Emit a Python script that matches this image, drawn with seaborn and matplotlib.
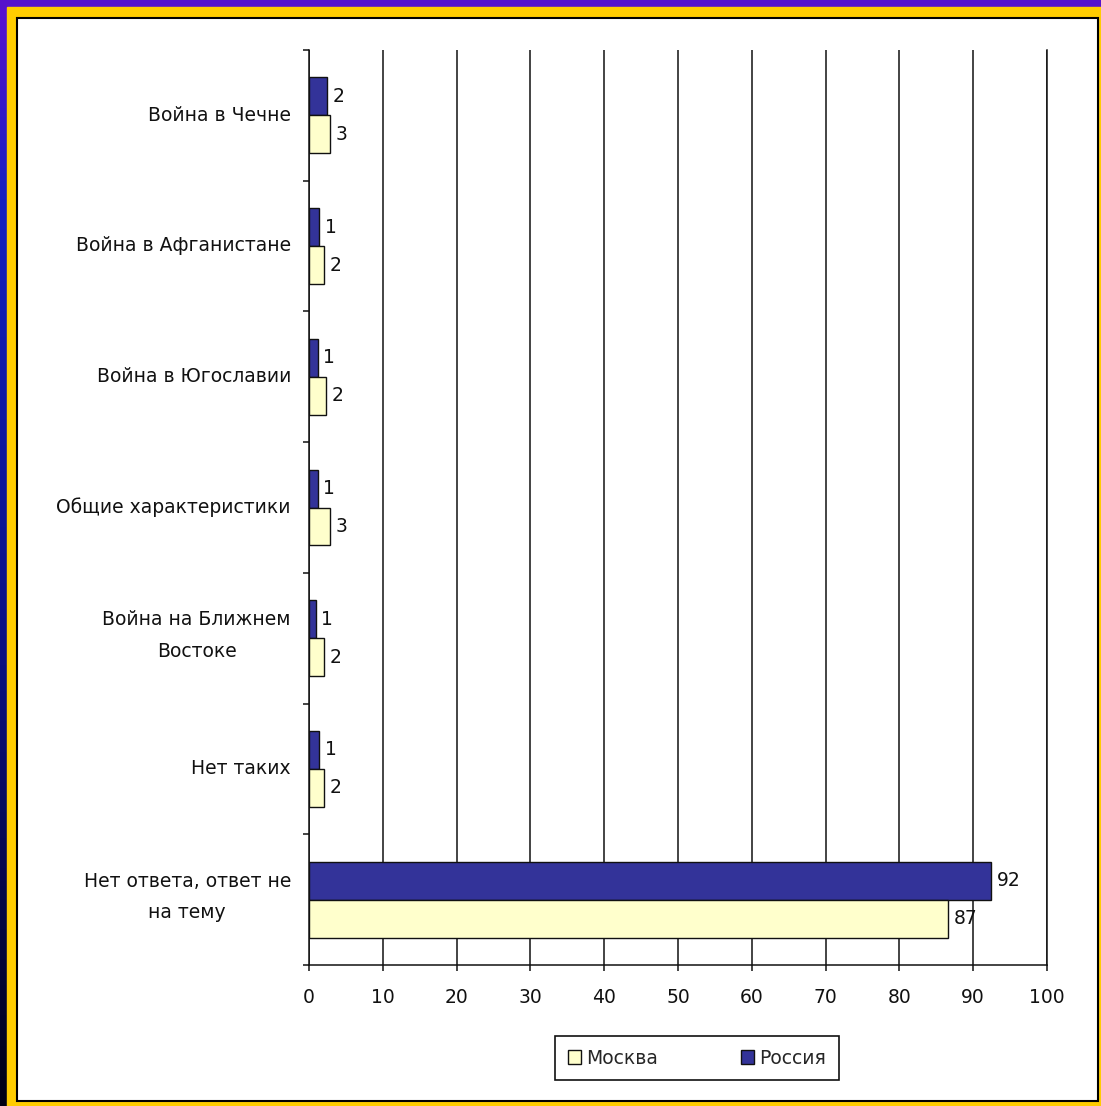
import numpy as np
import pandas as pd
import matplotlib
matplotlib.use("Agg")
import matplotlib.pyplot as plt
import matplotlib.transforms as mtransforms
import seaborn as sns
from matplotlib.patches import Rectangle, Patch
from matplotlib.colors import LinearSegmentedColormap

# data
categories = ['Война в Чечне', 'Война в Афганистане', 'Война в Югославии',
              'Общие характеристики', 'Война на Ближнем\nВостоке', 'Нет таких',
              'Нет ответа, ответ не\nна тему']
russia = [2.4, 1.4, 1.2, 1.2, 0.9, 1.4, 92.4]
moscow = [2.9, 2.1, 2.3, 2.9, 2.1, 2.1, 86.6]
series = ['Россия', 'Москва']
x_ticks = [0, 10, 20, 30, 40, 50, 60, 70, 80, 90, 100]

colors = {'Россия': '#333399', 'Москва': '#FFFFCC'}

df = pd.DataFrame({
    'Категория': categories * 2,
    'Регион': ['Россия'] * len(categories) + ['Москва'] * len(categories),
    'Процент': russia + moscow,
})

sns.set_style("white")
plt.rcParams['font.family'] = ['DejaVu Sans']
FS = 13.5
W, H = 1101, 1106
fig = plt.figure(figsize=(W / 100, H / 100), dpi=100)

# ---- decorative frame ----
bg = fig.add_axes([0, 0, 1, 1], zorder=-5)
bg.set_xlim(0, W)
bg.set_ylim(H, 0)
bg.axis('off')
cmap = LinearSegmentedColormap.from_list(
    'edge', [(0, '#5a10d0'), (0.18, '#1420c0'), (0.6, '#0a0f80'), (1, '#000014')])
bg.imshow(np.linspace(0, 1, 256).reshape(-1, 1), cmap=cmap, aspect='auto',
          extent=[0, 7, H, 0], zorder=1)
bg.add_patch(Rectangle((0, 0), W, 7, color='#5512cc', zorder=1))
bg.add_patch(Rectangle((7, 7), W - 7, H - 7, color='#ffcc00', zorder=2))
bg.add_patch(Rectangle((17, 18), 1098 - 17, 1101 - 18, facecolor='white',
                       edgecolor='black', lw=1.5, zorder=3))

# ---- chart ----
ax = fig.add_axes([309 / W, (H - 965) / H, (1047 - 309) / W, (965 - 50) / H])
ax.set_facecolor('white')
sns.barplot(data=df, y='Категория', x='Процент', hue='Регион', hue_order=series,
            palette=colors, saturation=1, orient='h', width=0.58, edgecolor='#111111',
            linewidth=1.0, ax=ax, legend=False, zorder=3)

for cont in ax.containers:
    ax.bar_label(cont, fmt='{:.0f}', padding=4, fontsize=FS, color='#111111')

ax.set_xlim(0, 100)
ax.set_ylim(len(categories) - 0.5, -0.5)
ax.set_xticks(x_ticks)
ax.set_xticklabels([str(t) for t in x_ticks], fontsize=FS, color='#111111')
ax.xaxis.grid(True, color='#111111', lw=1.1, zorder=0)
ax.yaxis.grid(False)
ax.set_axisbelow(True)

ax.set_yticks(range(len(categories)))
ax.set_yticklabels(categories, fontsize=FS, color='#111111')
ax.set_yticks(np.arange(-0.5, len(categories), 1.0), minor=True)
ax.tick_params(axis='y', which='major', length=0, pad=13)
ax.tick_params(axis='y', which='minor', length=4.5, width=1.1, color='#111111', direction='out', left=True)
ax.tick_params(axis='x', length=4.5, width=1.1, color='#111111', direction='out', pad=12, bottom=True)

# two-line labels: centred lines, wider spacing, nudged up a bit
for lab in ax.get_yticklabels():
    lab.set_multialignment('center')
    lab.set_linespacing(1.85)
    if '\n' in lab.get_text():
        lab.set_transform(lab.get_transform() +
                          mtransforms.ScaledTranslation(0, 8 / 72, fig.dpi_scale_trans))
    else:
        lab.set_transform(lab.get_transform() +
                          mtransforms.ScaledTranslation(0, 1.5 / 72, fig.dpi_scale_trans))

ax.set_xlabel('')
ax.set_ylabel('')
for side in ['left', 'bottom', 'right']:
    ax.spines[side].set_visible(True)
    ax.spines[side].set_color('#111111')
    ax.spines[side].set_linewidth(1.1)
ax.spines['top'].set_visible(False)

# legend: Москва first, then Россия
handles = [Patch(facecolor=colors[s], edgecolor='#111111', lw=1.0) for s in ['Москва', 'Россия']]
fig.legend(handles, ['Москва', 'Россия'], loc='center', bbox_to_anchor=(697 / W, (H - 1058) / H),
           ncol=2, frameon=True, fancybox=False, edgecolor='#111111', fontsize=FS,
           handlelength=0.7, handleheight=0.7, handletextpad=0.3, columnspacing=4.4,
           borderpad=0.65, framealpha=1)
fig.legends[0].get_frame().set_linewidth(1.2)

fig.savefig('out.png', dpi=100)
